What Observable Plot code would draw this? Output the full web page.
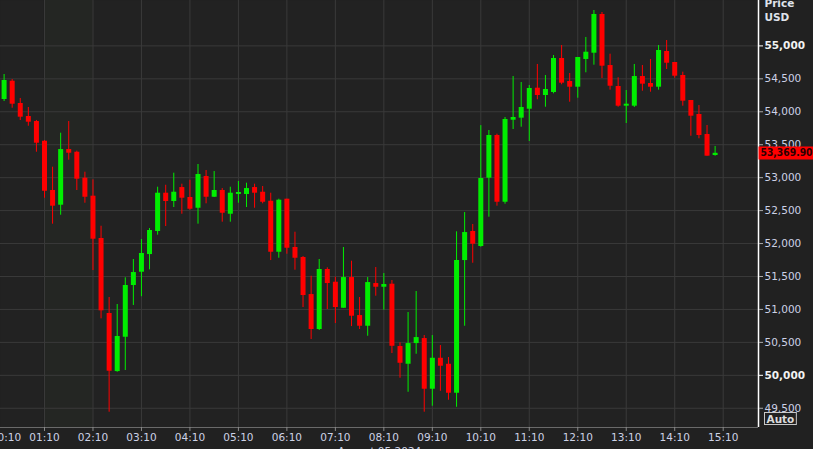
<!DOCTYPE html>
<html><head><meta charset="utf-8">
<script src="https://cdn.jsdelivr.net/npm/d3@7"></script>
<script src="https://cdn.jsdelivr.net/npm/@observablehq/plot@0.6"></script>
<style>
html,body{margin:0;padding:0;background:#212121;overflow:hidden;}
#chart{width:813px;height:449px;}
svg{display:block;}
</style></head><body><div id="chart"></div>
<script>
// ---- data (10-minute candles, BTC/USD, 05 Aug 2024) ----
const times = ["00:20","00:30","00:40","00:50","01:00","01:10","01:20","01:30","01:40","01:50","02:00","02:10","02:20","02:30","02:40","02:50","03:00","03:10","03:20","03:30","03:40","03:50","04:00","04:10","04:20","04:30","04:40","04:50","05:00","05:10","05:20","05:30","05:40","05:50","06:00","06:10","06:20","06:30","06:40","06:50","07:00","07:10","07:20","07:30","07:40","07:50","08:00","08:10","08:20","08:30","08:40","08:50","09:00","09:10","09:20","09:30","09:40","09:50","10:00","10:10","10:20","10:30","10:40","10:50","11:00","11:10","11:20","11:30","11:40","11:50","12:00","12:10","12:20","12:30","12:40","12:50","13:00","13:10","13:20","13:30","13:40","13:50","14:00","14:10","14:20","14:30","14:40","14:50","15:00"];
const open  = [54186,54464,54126,53928,53852,53553,52805,52582,53427,53386,52992,52719,52077,50938,50057,50578,51363,51565,51833,52183,52764,52638,52850,52699,52536,53017,52703,52805,52445,52745,52744,52850,52779,52642,51868,52673,51940,51788,51226,50695,51606,51413,51018,51484,50907,50745,51393,51337,51383,50437,50168,50482,50558,49789,50259,50168,49728,51742,52183,51955,52992,53640,52627,53872,53903,54039,54358,54247,54293,54809,54460,54373,54794,54889,55477,54702,54384,54085,54085,54535,54429,54373,54915,54748,54551,54171,53959,53655,53336];
const high  = [54566,54490,54202,54065,53868,53564,53159,53675,53852,53402,53083,52967,52263,51181,51075,51480,51758,52061,52228,52855,52885,53068,52901,52961,53200,53109,53093,52835,52855,52942,52916,52901,52866,52764,52673,52673,52172,51803,51504,51758,51632,51489,51940,51732,51181,51484,51636,51545,51439,50493,50953,51272,50604,50604,50452,50270,52178,52471,52289,53790,53716,53660,53913,54535,54444,54399,54718,54550,54854,55006,54581,54824,55128,55537,55507,54874,54516,54323,54718,54702,54794,55006,55082,54748,54601,54171,54095,53792,53473];
const low   = [54156,54054,53868,53781,53386,52688,52294,52430,53265,52805,52612,51590,50857,49440,50047,50073,51060,51193,51601,52127,52258,52547,52445,52506,52294,52603,52699,52324,52324,52612,52547,52536,52603,51742,51777,51838,51595,51029,50543,50680,50998,50786,51018,50740,50695,50593,51201,50988,50331,49956,49743,50320,49440,49531,49758,49622,49515,50745,51701,51944,52400,52567,52597,53731,53766,53549,54182,54069,54273,54410,54145,54206,54592,54707,54505,54328,54069,53822,54065,54312,54297,54328,54642,54510,54085,53629,53590,53326,53326];
const close = [54475,54115,53918,53842,53523,52794,52567,53427,53371,52977,52703,52066,50979,50062,50589,51363,51560,51849,52198,52764,52638,52779,52688,52521,53048,52703,52805,52460,52764,52775,52835,52764,52627,51868,52658,51929,51777,51211,50695,51606,51393,51029,51484,50897,50745,51408,51337,51378,50441,50183,50482,50573,49789,50259,50138,49728,51742,52167,51990,52987,53640,52627,53883,53913,54065,54353,54247,54338,54809,54434,54373,54824,54904,55477,54692,54388,54085,54115,54535,54419,54373,54930,54737,54540,54161,53933,53640,53326,53369.90];

const xTickLabels = ["01:10","02:10","03:10","04:10","05:10","06:10","07:10","08:10","09:10","10:10","11:10","12:10","13:10","14:10","15:10"];
const firstTickLabel = "00:10";
const shadedHour = ["01:10","02:10"];
const yTicks = [49500,50000,50500,51000,51500,52000,52500,53000,53500,54000,54500,55000];
const yBoldTicks = [50000,55000];
const xView = ["00:15:33","15:53:42"];
const yView = [49208,55689];
const dateLabel = "August 05 2024";
const unitLabel = "Price\nUSD";
const autoLabel = "Auto";

// ---- build ----
const day = [2024,7,5];
const toDate = s => { const p = s.split(":").map(Number); return new Date(Date.UTC(day[0],day[1],day[2],p[0],p[1],p[2]||0)); };
const candles = times.map((t,i)=>({t: toDate(t), o: open[i], h: high[i], l: low[i], c: close[i]}));
const up = d => d.c >= d.o;
const GREEN = "#00ee00", RED = "#ff0000";
const GRID = "#3a3a3a", LABEL = "#cdd2e6";
const last = candles[candles.length-1];
const xTicks = xTickLabels.map(toDate);
const fmtT = d3.utcFormat("%H:%M");
const fmtY = d3.format(",");

const chart = Plot.plot({
  width: 813, height: 449,
  marginLeft: 0, marginRight: 55, marginTop: 0, marginBottom: 22,
  style: {background: "#212121", fontFamily: "DejaVu Sans, sans-serif", overflow: "visible"},
  x: {type: "utc", domain: xView.map(toDate), label: null},
  y: {domain: yView, label: null},
  marks: [
    Plot.frame({fill: "#222222", stroke: "none"}),
    Plot.rectX([shadedHour.map(toDate)], {x1: d=>d[0], x2: d=>d[1], fill: "#242623"}),
    Plot.gridX(xTicks, {stroke: GRID, strokeOpacity: 1}),
    Plot.gridY(yTicks, {stroke: GRID, strokeOpacity: 1}),
    Plot.ruleX(candles, {filter: up, x: "t", y1: "l", y2: "h", stroke: GREEN, strokeWidth: 1}),
    Plot.ruleX(candles, {filter: d=>!up(d), x: "t", y1: "l", y2: "h", stroke: RED, strokeWidth: 1}),
    Plot.ruleX(candles, {filter: up, x: "t", y1: "o", y2: "c", stroke: GREEN, strokeWidth: 5}),
    Plot.ruleX(candles, {filter: d=>!up(d), x: "t", y1: "o", y2: "c", stroke: RED, strokeWidth: 5}),
    Plot.ruleY([yView[0]], {stroke: "#6a6a6a"}),
    Plot.ruleX([toDate(xView[1])], {stroke: "#ffffff", strokeWidth: 1.5}),
    Plot.axisX(xTicks, {label: null, tickFormat: fmtT, tickSize: 4, tickPadding: 2, fontSize: 10.5, color: LABEL, stroke: "#8a8a8a"}),
    Plot.text([toDate(firstTickLabel)], {x: d=>d, text: fmtT, frameAnchor: "bottom", lineAnchor: "top", dy: 6, dx: 10, fontSize: 10.5, fill: LABEL}),
    Plot.axisY(yTicks.filter(v=>!yBoldTicks.includes(v)), {label: null, anchor: "right", tickSize: 4, tickPadding: 2, tickFormat: fmtY, fontSize: 10.5, color: LABEL, stroke: "#aaaaaa"}),
    Plot.axisY(yBoldTicks, {label: null, anchor: "right", tickSize: 4, tickPadding: 2, tickFormat: fmtY, fontSize: 10.5, fontWeight: "bold", color: "#f2f2f2", stroke: "#ffffff"}),
    Plot.text([unitLabel], {frameAnchor: "top-right", textAnchor: "start", lineAnchor: "top", dx: 6, dy: -3.5, lineHeight: 1.35, fontSize: 10.5, fontWeight: "bold", fill: "#dfe2ea"}),
    Plot.text([last], {y: "c", text: d=>d3.format(",.2f")(d.c), frameAnchor: "right", textAnchor: "start", dx: 2, fontSize: 10, fontWeight: "bold", fill: "#2a0000", className: "lastlabel"}),
    Plot.text([autoLabel], {frameAnchor: "bottom-right", textAnchor: "start", dx: 8, dy: -5, fontSize: 10.5, fontWeight: "bold", fill: "#dcdcdc", className: "autolabel"}),
    Plot.text([dateLabel], {frameAnchor: "bottom", lineAnchor: "top", dy: 20, fontSize: 10.5, fill: LABEL})
  ]
});
document.getElementById("chart").appendChild(chart);

// fit the last-price label into the right margin
d3.select(chart).selectAll("g.lastlabel text").each(function(){
  if (this.getComputedTextLength() > 52) {
    this.setAttribute("textLength", 52);
    this.setAttribute("lengthAdjust", "spacingAndGlyphs");
  }
});

// boxes behind the last-price and "Auto" labels (sized from the rendered text)
function boxBehind(sel, pad, fill, stroke, fullWidth){
  d3.select(chart).selectAll(sel).each(function(){
    const b = this.getBBox();
    const r = d3.select(this.parentNode).insert("rect", () => this)
      .attr("x", b.x - pad).attr("y", b.y - (fullWidth ? 1 : 0))
      .attr("width", fullWidth ? b.width + 40 : b.width + 2*pad)
      .attr("height", b.height + (fullWidth ? 2 : 0))
      .attr("fill", fill).attr("stroke", stroke);
    const tr = this.getAttribute("transform");
    if (tr) r.attr("transform", tr);
  });
}
boxBehind("g.lastlabel text", 2, RED, "none", true);
boxBehind("g.autolabel text", 2, "none", "#c8c8c8", false);
</script></body></html>
